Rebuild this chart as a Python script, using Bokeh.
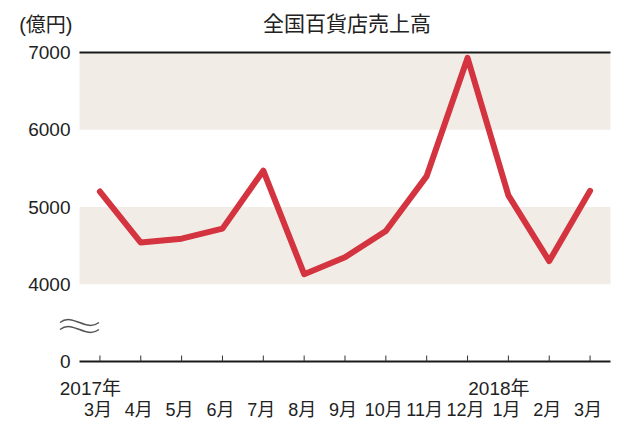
from bokeh.plotting import figure
from bokeh.models import Range1d
from bokeh.core.properties import value
from bokeh.embed import file_html
from bokeh.resources import INLINE

# ---- data ----
months = ["3月", "4月", "5月", "6月", "7月", "8月", "9月", "10月", "11月", "12月", "1月", "2月", "3月"]
sales = [5200, 4540, 4590, 4720, 5470, 4130, 4350, 4690, 5400, 6930, 5150, 4300, 5210]
year_labels = ["2017年", "2018年"]
year_index = [0, 10]
y_ticks = [3000, 4000, 5000, 6000, 7000]
y_tick_labels = ["0", "4000", "5000", "6000", "7000"]
band_bottoms = [4000, 6000]
band_tops = [5000, 7000]
title_text = "全国百貨店売上高"
unit_text = "(億円)"

# ---- layout (pixels) ----
W, H = 624, 421
L, R, T, B = 79, 610, 52, 361
X0, X1 = -0.5, len(months) - 0.5
Y0, Y1 = y_ticks[0], y_ticks[-1]
sx = (X1 - X0) / (R - L)
sy = (Y1 - Y0) / (B - T)

FONT = "'Liberation Sans', 'Noto Sans CJK JP', sans-serif"
TXT = "#222222"

p = figure(width=W, height=H, output_backend="svg", toolbar_location=None,
           x_range=Range1d(X0 - L * sx, X1 + (W - R) * sx),
           y_range=Range1d(Y0 - (H - B) * sy, Y1 + T * sy),
           x_axis_type=None, y_axis_type=None,
           min_border=0, min_border_left=0, min_border_right=0,
           min_border_top=0, min_border_bottom=0)
p.outline_line_color = None
p.background_fill_color = "white"
p.border_fill_color = "white"

x = list(range(len(months)))

# bands
p.quad(left=X0, right=X1, bottom=band_bottoms, top=band_tops,
       fill_color="#F1ECE6", line_color=None)

# top line and baseline
p.segment(x0=[X0, X0], y0=[Y1, Y0], x1=[X1, X1], y1=[Y1, Y0],
          line_color="#1a1a1a", line_width=2)

# x ticks (pointing up from baseline)
p.segment(x0=x, y0=[Y0] * len(x), x1=x, y1=[Y0 + 6 * sy] * len(x),
          line_color="#333333", line_width=1)

# data line
p.line(x, sales, line_color="#D4343F", line_width=6, line_join="round", line_cap="round")

# y tick labels
p.text(x=[X0 - 9 * sx] * len(y_ticks), y=y_ticks, text=y_tick_labels,
       text_align="right", text_baseline="middle",
       text_font=value(FONT), text_font_size="19px", text_color=TXT)

# month labels
p.text(x=[i - 2 * sx for i in x], y=[Y0 - 48 * sy] * len(x), text=months,
       text_align="center", text_baseline="middle",
       text_font=value(FONT), text_font_size="18px", text_color=TXT)

# year labels
p.text(x=[i - 9.5 * sx for i in year_index], y=[Y0 - 27 * sy] * len(year_index), text=year_labels,
       text_align="center", text_baseline="middle",
       text_font=value(FONT), text_font_size="19px", text_color=TXT)

# title and unit
p.text(x=[(X0 + X1) / 2 + 2 * sx], y=[Y1 + 29 * sy], text=[title_text],
       text_align="center", text_baseline="middle",
       text_font=value(FONT), text_font_size="21px", text_color=TXT)
p.text(x=[X0 - 7 * sx], y=[Y1 + 28 * sy], text=[unit_text],
       text_align="right", text_baseline="middle",
       text_font=value(FONT), text_font_size="20px", text_color=TXT)

# axis break mark (two waves) at the left edge between 0 and 4000
bx = X0
by = Y0 + (B - 325.5) * sy
hw = 19.5 * sx
a = 10.0 * sy
gap = 3.5 * sy
ys = [by + gap, by - gap]
p.bezier(x0=[bx - hw] * 2, y0=ys, x1=[bx + hw] * 2, y1=ys,
         cx0=[bx - hw / 3] * 2, cy0=[v + a for v in ys],
         cx1=[bx + hw / 3] * 2, cy1=[v - a for v in ys],
         line_color="#555555", line_width=1.5)

open("out.html", "w").write(file_html(p, INLINE))
